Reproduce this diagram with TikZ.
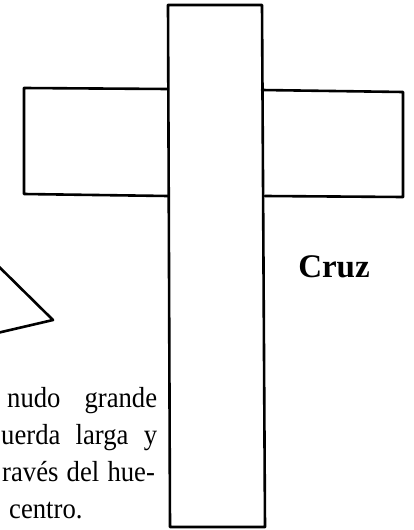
\documentclass[tikz,border=0pt]{standalone}
\usepackage{fontspec}
\setmainfont{Liberation Serif}
\usepackage{graphicx}
\usepackage{tkz-euclide}
\usetikzlibrary{calc}
\usetikzlibrary{positioning}

\newcommand{\renglonbox}[2]{\scalebox{0.92}[1]{\makebox[#1][s]{#2}}}

\begin{document}
\begin{tikzpicture}[x=1pt,y=-1pt,
    cruzline/.style={line width=2.6pt,line join=round},
    renglon/.style={anchor=base west,inner sep=0pt,font=\fontsize{29}{36}\selectfont}]
      \useasboundingbox (0,0) rectangle (413,530);
      \tkzDefPoints{168/5/A,262/5/B,265/527/C,170/527/D}
      \tkzDefPoints{168/89/L1,24/88/L2,24/194/L3,168/196/L4}
      \tkzDefPoints{262/90/R1,403/92/R2,403/197/R3,265/196/R4}
      \tkzDefPoints{-20/248/T1,53/320/T2,-20/337/T3}
      \tkzDrawPolygon[cruzline](A,B,C,D)
      \tkzDrawPolySeg[cruzline](L1,L2,L3,L4)
      \tkzDrawPolySeg[cruzline](R1,R2,R3,R4)
      \tkzDrawPolySeg[cruzline](T1,T2,T3)
      \node[font=\bfseries\fontsize{33}{40}\selectfont,anchor=base,inner sep=0pt] (cruz) at (334,277) {Cruz};
      \node[renglon] (l1) at (7,407) {\renglonbox{163pt}{nudo grande}};
      \node[renglon] (l2) at (1,444) {\renglonbox{169.5pt}{uerda larga y}};
      \node[renglon] (l3) at (2,481) {\renglonbox{166pt}{ravés del hue-}};
      \node[renglon] (l4) at (9,518) {\scalebox{0.92}[1]{centro.}};
\end{tikzpicture}
\end{document}
